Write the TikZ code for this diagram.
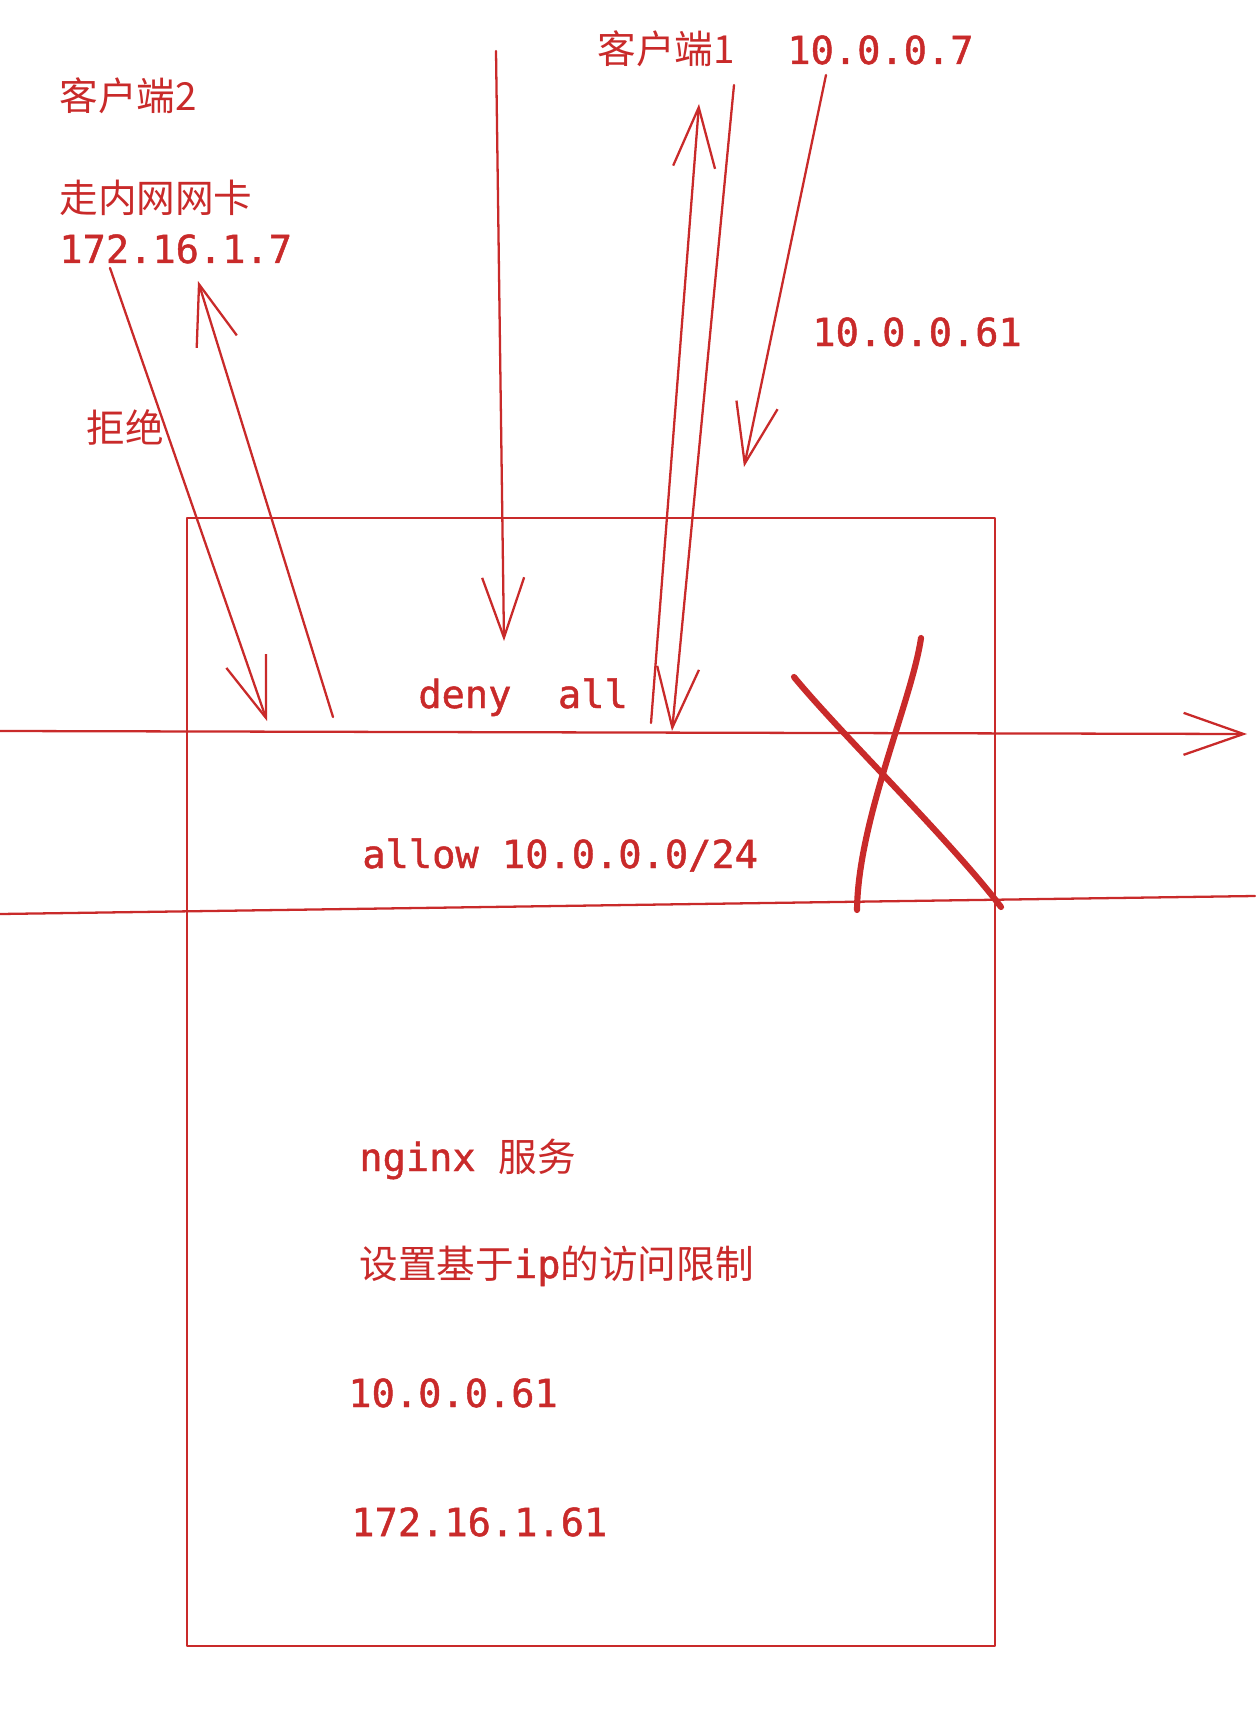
\documentclass[tikz,border=0pt]{standalone}
\usepackage{fontspec}
\setmonofont{DejaVu Sans Mono}[FakeBold=1.2]
\newfontfamily\cjk{Noto Sans CJK SC}
\usetikzlibrary{arrows.meta}
\definecolor{inkred}{HTML}{C92A2A}

\begin{document}
\begin{tikzpicture}[
    x=0.02cm, y=-0.02cm,
    ink/.style={draw=inkred, line width=1.3pt, line cap=round, line join=round},
    arr/.style={ink, -{Straight Barb[length=1.2cm, width=0.84cm]}},
    cross/.style={draw=inkred, line width=3.5pt, line cap=round},
    lbl/.style={text=inkred, inner sep=0pt, anchor=base west, font=\fontsize{22}{26}\selectfont\ttfamily}
]
\useasboundingbox (0,0) rectangle (1255,1723);

% labels outside
\node[lbl] (c2)    at (59,111)  {{\cjk 客户端2}};
\node[lbl] (lan)   at (59,213)  {{\cjk 走内网网卡}};
\node[lbl] (ip2)   at (59,263)  {172.16.1.7};
\node[lbl] (deny)  at (86,442)  {{\cjk 拒绝}};
\node[lbl] (c1)    at (597,64)  {{\cjk 客户端1}};
\node[lbl] (ip1)   at (787,64)  {10.0.0.7};
\node[lbl] (pub)   at (812,346) {10.0.0.61};

% server box
\draw[ink] (187,518) rectangle (995,1646);
\node[lbl] (rdeny)  at (418,708)  {deny\ \ all};
\node[lbl] (rallow) at (362,868)  {allow 10.0.0.0/24};
\node[lbl] (srv)    at (359,1171) {nginx {\cjk 服务}};
\node[lbl] (rule)   at (359,1278) {{\cjk 设置基于}ip{\cjk 的访问限制}};
\node[lbl] (eth0)   at (348,1407) {10.0.0.61};
\node[lbl] (eth1)   at (351,1536) {172.16.1.61};

% end points
\coordinate (hA) at (0,731);
\coordinate (hB) at (1247,734);
\coordinate (gA) at (0,914);
\coordinate (gB) at (1255,896);
\coordinate (vA) at (496,51);
\coordinate (vB) at (504,641);
\coordinate (upA) at (651,723);
\coordinate (upB) at (699,104);
\coordinate (dnA) at (734,85);
\coordinate (dnB) at (672,731);
\coordinate (pA) at (826,75);
\coordinate (pB) at (744,467);
\coordinate (lanA) at (110,268);
\coordinate (lanB) at (267,721);
\coordinate (rejA) at (333,717);
\coordinate (rejB) at (198,281);

% rule lines
\draw[arr] (hA) -- (hB);
\draw[ink] (gA) -- (gB);

% requests
\draw[arr] (vA) -- (vB);
\draw[arr] (upA) -- (upB);
\draw[arr] (dnA) -- (dnB);
\draw[arr] (pA) -- (pB);
\draw[arr] (lanA) -- (lanB);
\draw[arr] (rejA) -- (rejB);

% crossed out
\draw[cross] (794,677) .. controls (840,733) and (950,840) .. (1001,907);
\draw[cross] (921,638) .. controls (912,700) and (858,820) .. (857,910);
\end{tikzpicture}
\end{document}
